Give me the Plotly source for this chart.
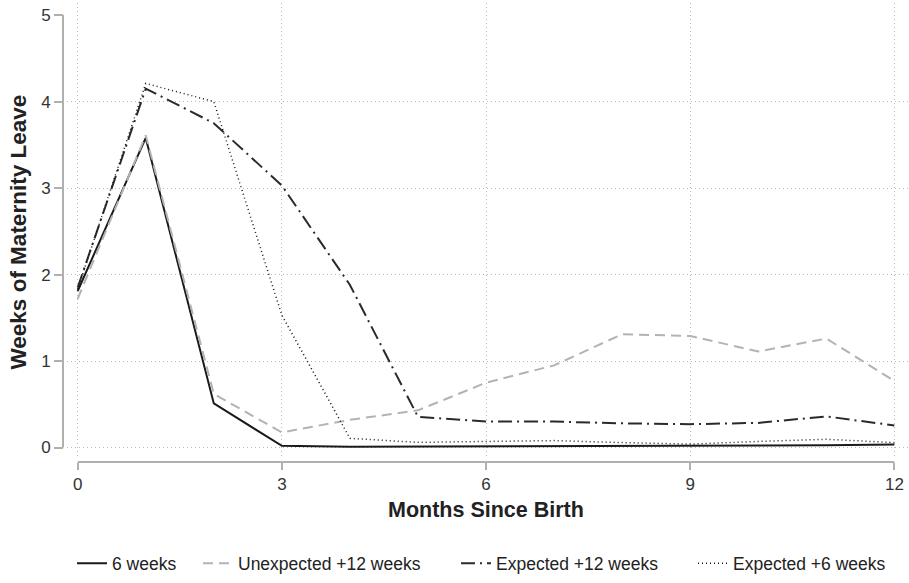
import plotly.graph_objects as go

months = list(range(13))
six_weeks = [1.81, 3.58, 0.51, 0.02, 0.008, 0.01, 0.015, 0.02, 0.02, 0.02, 0.02, 0.025, 0.035]
unexp_12 = [1.72, 3.61, 0.62, 0.175, 0.32, 0.43, 0.75, 0.95, 1.31, 1.29, 1.11, 1.26, 0.77]
exp_12 = [1.85, 4.15, 3.75, 3.03, 1.88, 0.355, 0.30, 0.30, 0.28, 0.27, 0.285, 0.36, 0.255]
exp_6 = [1.83, 4.21, 4.00, 1.53, 0.106, 0.06, 0.07, 0.08, 0.057, 0.04, 0.07, 0.095, 0.057]

series_names = ["6 weeks", "Unexpected +12 weeks", "Expected +12 weeks", "Expected +6 weeks"]
x_ticks = [0, 3, 6, 9, 12]
y_ticks = [0, 1, 2, 3, 4, 5]
y_grid = [0, 1, 2, 3, 4]

FONT = "Liberation Sans, Arial, sans-serif"
AX = "#b0b0b0"
GRID = "#b8b8b8"
GDASH = "1px,3px"

styles = [
    dict(color="#1a1a1a", width=2, dash="solid"),
    dict(color="#b3b3b3", width=2, dash="10px,6px"),
    dict(color="#2a2a2a", width=2, dash="14px,5px,2px,5px"),
    dict(color="#1a1a1a", width=1.5, dash="1px,3px"),
]
data = [six_weeks, unexp_12, exp_12, exp_6]
legend_ids = ["legend", "legend2", "legend3", "legend4"]
text_x = [117, 243, 501, 738]

fig = go.Figure()
for name, vals, st, lid in zip(series_names, data, styles, legend_ids):
    fig.add_trace(go.Scatter(x=months, y=vals, mode="lines", name=name,
                             line=st, legend=lid))
# invisible carrier so the grid-only overlay axis is rendered
fig.add_trace(go.Scatter(x=[None], y=[None], yaxis="y2", showlegend=False,
                         hoverinfo="skip", mode="lines"))

W, H = 909, 583
L, R, T, B = 63, 1, 3, 114
pw, ph = W - L - R, H - T - B

xr = [-0.157, 12.2]
yr = [-0.099, 5.14]

leg_common = dict(orientation="h", yanchor="middle", y=(469 - 572) / ph,
                  xanchor="left", font=dict(family=FONT, size=17.5, color="#222"),
                  bgcolor="rgba(0,0,0,0)", borderwidth=0)
layout_legends = {}
for lid, tx in zip(legend_ids, text_x):
    d = dict(leg_common)
    d["x"] = (tx - 45 - L) / pw
    layout_legends[lid] = d

fig.update_layout(
    width=W, height=H,
    margin=dict(l=L, r=R, t=T, b=B),
    paper_bgcolor="white", plot_bgcolor="white",
    font=dict(family=FONT, size=17, color="#333"),
    showlegend=True,
    xaxis=dict(domain=[4 / pw, 1], anchor="free", position=0, range=xr,
               tickvals=x_ticks, ticks="outside", ticklen=7, tickwidth=2,
               tickcolor=AX, showline=False, zeroline=False,
               showgrid=True, gridcolor=GRID, gridwidth=1, griddash=GDASH,
               tickfont=dict(family=FONT, size=17, color="#333")),
    yaxis=dict(domain=[6 / ph, 1], anchor="free", position=0, range=yr,
               tickvals=y_ticks, ticks="outside", ticklen=9, tickwidth=2,
               tickcolor=AX, showline=False, zeroline=False, showgrid=False,
               tickfont=dict(family=FONT, size=17, color="#333")),
    yaxis2=dict(overlaying="y", anchor="x", range=yr, tickvals=y_grid,
                showticklabels=False, ticks="", showline=False, zeroline=False,
                showgrid=True, gridcolor=GRID, gridwidth=1, griddash=GDASH),
    **layout_legends,
)

fig.add_shape(type="line", xref="paper", yref="y", x0=0, x1=0, y0=y_ticks[0], y1=y_ticks[-1],
              line=dict(color=AX, width=2), layer="above")
fig.add_shape(type="line", xref="x", yref="paper", x0=x_ticks[0], x1=x_ticks[-1], y0=0, y1=0,
              line=dict(color=AX, width=2), layer="above")

fig.add_annotation(text="<b>Months Since Birth</b>", xref="paper", yref="paper",
                   x=(486 - L) / pw, y=(469 - 518) / ph, xanchor="center", yanchor="middle",
                   showarrow=False, font=dict(family=FONT, size=21.5, color="#222"))
fig.add_annotation(text="<b>Weeks of Maternity Leave</b>", xref="paper", yref="paper",
                   x=(18 - L) / pw, y=(469 - 236) / ph, xanchor="center", yanchor="middle",
                   textangle=-90, showarrow=False, font=dict(family=FONT, size=22.5, color="#222"))

fig.write_html("out.html", config={"displayModeBar": False},
               post_script="document.body.style.margin='0';")
